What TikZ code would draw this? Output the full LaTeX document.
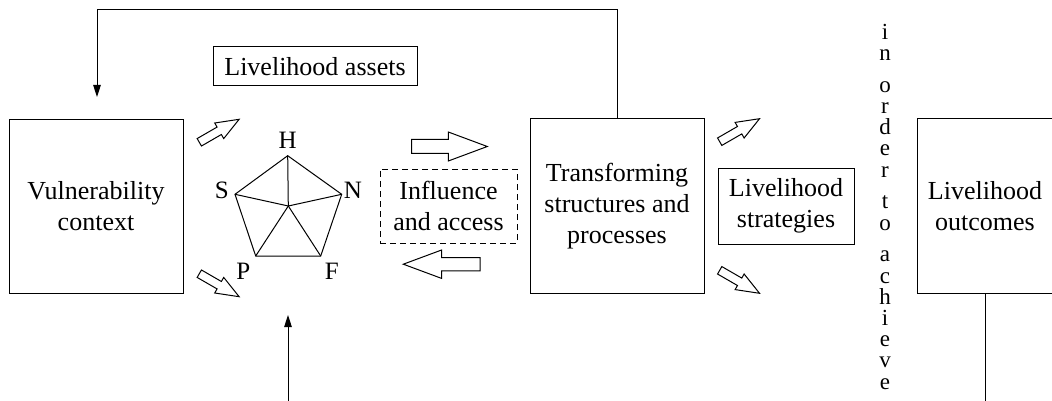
\documentclass[tikz,border=0pt]{standalone}
\usepackage{fontspec}
\setmainfont{Liberation Serif}
\usetikzlibrary{arrows.meta}
\begin{document}
\begin{tikzpicture}[x=1pt,y=-1pt,line width=1pt,
  box/.style={draw, inner sep=0pt, align=center, font=\fontsize{26}{31}\selectfont},
  tri/.style={-{Triangle[length=12pt,width=7.5pt]}},
  letter/.style={font=\fontsize{25}{30}\selectfont, inner sep=0pt},
  col/.style={font=\fontsize{23}{23}\selectfont, inner sep=0pt, anchor=base},
  pics/fatarr/.style args={#1/#2/#3/#4}{code={\draw (0,-#2) -- ({#1-#4},-#2) -- ({#1-#4},-#3) -- (#1,0) -- ({#1-#4},#3) -- ({#1-#4},#2) -- (0,#2) -- cycle;}}
]
\useasboundingbox (0,0) rectangle (1052,401);

% boxes
\node[box, minimum width=174pt, minimum height=173pt] (vul) at (96,206.5) {Vulnerability\\context};
\node[box, minimum width=204pt, minimum height=39pt] (ast) at (315,66.5) {Livelihood assets};
\node[box, dash pattern=on 6pt off 4pt, minimum width=137pt, minimum height=74pt] (inf) at (448.5,206) {Influence\\and access};
\node[box, minimum width=174pt, minimum height=174pt] (trn) at (617,206) {Transforming\\structures and\\processes};
\node[box, minimum width=136pt, minimum height=76pt] (str) at (786,206) {Livelihood\\strategies};
\node[box, minimum width=136pt, minimum height=174pt] (out) at (985,206) {Livelihood\\outcomes};

% pentagon
\coordinate (pH) at (287.7,155.7);
\coordinate (pN) at (341.7,194.3);
\coordinate (pF) at (320.7,256);
\coordinate (pP) at (255.7,256);
\coordinate (pS) at (235,194.3);
\coordinate (pC) at (288.3,206);
\draw (pH) -- (pN) -- (pF) -- (pP) -- (pS) -- cycle;
\foreach \v in {pH,pN,pF,pP,pS} \draw (pC) -- (\v);
\node[letter] (lH) at (287.7,140.7) {H};
\node[letter] (lN) at (353,190) {N};
\node[letter] (lF) at (331.7,271.7) {F};
\node[letter] (lP) at (243.3,271.7) {P};
\node[letter] (lS) at (221.7,190) {S};

% feedback arrow
\coordinate (fbend) at (97,97);
\coordinate (fbtop) at (97,10);
\draw[tri] (trn.north) |- (fbtop) -- (fbend);

% bottom arrow into assets
\coordinate (pb) at (288,401);
\coordinate (pt) at (288,315);
\draw[tri] (pb) -- (pt);

% line from outcomes
\coordinate (ob) at (985,401);
\draw (out.south) -- (ob);

% fat arrows
\pic[rotate=0] at (411.7,146.5) {fatarr=75.6/7/14.5/39};
\pic[rotate=180] at (480,264.2) {fatarr=76.7/6.7/14.2/38.3};
\pic[rotate=30] at (199.3,142.3) {fatarr=46/4.3/9/23};
\pic[rotate=-30] at (199.3,273.7) {fatarr=46/4.3/9/23};
\pic[rotate=30] at (719.7,141.7) {fatarr=46/4.3/9/23};
\pic[rotate=-30] at (719.7,270.3) {fatarr=46/4.3/9/23};

% vertical text
\foreach \ch/\yy [count=\k] in {i/39.3,n/60.5,o/92.3,r/113.5,d/134.7,e/155.9,r/177.1,t/208.9,o/230.1,a/261.9,c/283.1,h/304.3,i/325.5,e/346.7,v/367.9,e/389.1}
  \node[col] (c\k) at (885,\yy) {\ch};
\end{tikzpicture}
\end{document}
